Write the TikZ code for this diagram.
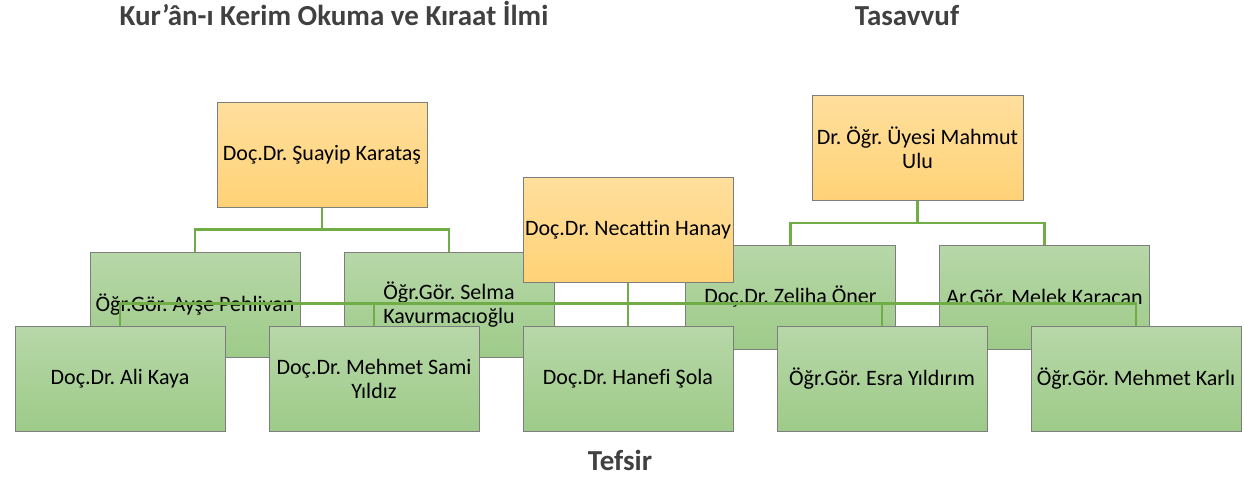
\documentclass[tikz,border=0pt]{standalone}
\usepackage{fontspec}
\setmainfont{Carlito}[Ligatures={NoCommon}]
\definecolor{gtop}{RGB}{183,215,168}
\definecolor{gbot}{RGB}{158,203,137}
\definecolor{otop}{RGB}{255,223,157}
\definecolor{obot}{RGB}{255,210,118}
\definecolor{boxline}{RGB}{125,125,125}
\definecolor{lineg}{RGB}{112,173,71}
\definecolor{titlegray}{RGB}{64,64,64}
\pgfdeclarelayer{lA}\pgfdeclarelayer{lB}\pgfdeclarelayer{lC}\pgfdeclarelayer{lD}
\pgfsetlayers{lA,lB,lC,lD,main}
\tikzset{
  box/.style={draw=boxline, line width=0.9pt, minimum width=210pt, minimum height=105pt,
    inner sep=2pt, align=center, font=\fontsize{22}{24}\selectfont, text=black},
  gbox/.style={box, top color=gtop, bottom color=gbot},
  obox/.style={box, top color=otop, bottom color=obot},
  conn/.style={draw=lineg, line width=2.6pt},
  ttl/.style={font=\bfseries\fontsize{29}{32}\selectfont, text=titlegray, anchor=base},
}
\begin{document}
\frenchspacing
\begin{tikzpicture}[x=1pt,y=-1pt]
\useasboundingbox (0,0) rectangle (1244,477);
% titles
\node[ttl] (t1) at (334,25.5) {Kur’ân-ı Kerim Okuma ve Kıraat İlmi};
\node[ttl] (t2) at (907,25.5) {Tasavvuf};
\node[ttl] (t3) at (620,470) {Tefsir};
% top-level and middle-row boxes
\begin{pgfonlayer}{lB}
\node[obox] (sua) at (322,154.5) {Doç.Dr. Şuayip Karataş};
\node[obox, minimum width=211pt] (mahmut) at (917.5,148.2) {Dr. Öğr. Üyesi Mahmut\\Ulu};
\node[gbox] (ayse) at (195,304.5) {Öğr.Gör. Ayşe Pehlivan};
\node[gbox] (selma) at (449,304.5) {Öğr.Gör. Selma\\Kavurmacıoğlu};
\node[gbox, minimum height=104pt] (zeliha) at (790.5,297) {Doç.Dr. Zeliha Öner};
\node[gbox, minimum height=104pt] (melek) at (1044.5,297) {Ar.Gör. Melek Karacan};
\end{pgfonlayer}
% Tefsir group (front)
\begin{pgfonlayer}{lD}
\node[obox] (hanay) at (628,229.5) {Doç.Dr. Necattin Hanay};
\node[gbox] (ali) at (120,378.5) {Doç.Dr. Ali Kaya};
\node[gbox] (sami) at (374,378.5) {Doç.Dr. Mehmet Sami\\Yıldız};
\node[gbox] (hanefi) at (628,378.5) {Doç.Dr. Hanefi Şola};
\node[gbox] (esra) at (882,378.5) {Öğr.Gör. Esra Yıldırım};
\node[gbox] (karli) at (1136,378.5) {Öğr.Gör. Mehmet Karlı};
\end{pgfonlayer}
% connectors of the back groups
\begin{pgfonlayer}{lA}
\draw[conn] (sua.south) -- ++(0,23);
\draw[conn] (ayse.north) -- ++(0,-22) -| (selma.north);
\draw[conn] (mahmut.south) -- ++(0,23);
\draw[conn] (zeliha.north) -- ++(0,-21.7) -| (melek.north);
\end{pgfonlayer}
% connectors of the Tefsir group
\begin{pgfonlayer}{lC}
\draw[conn] (ali.north) -- ++(0,-22) -| (karli.north);
\draw[conn] (sami.north) -- ++(0,-22);
\draw[conn] (esra.north) -- ++(0,-22);
\draw[conn] (hanay.south) -- (hanefi.north);
\end{pgfonlayer}
\end{tikzpicture}
\end{document}
